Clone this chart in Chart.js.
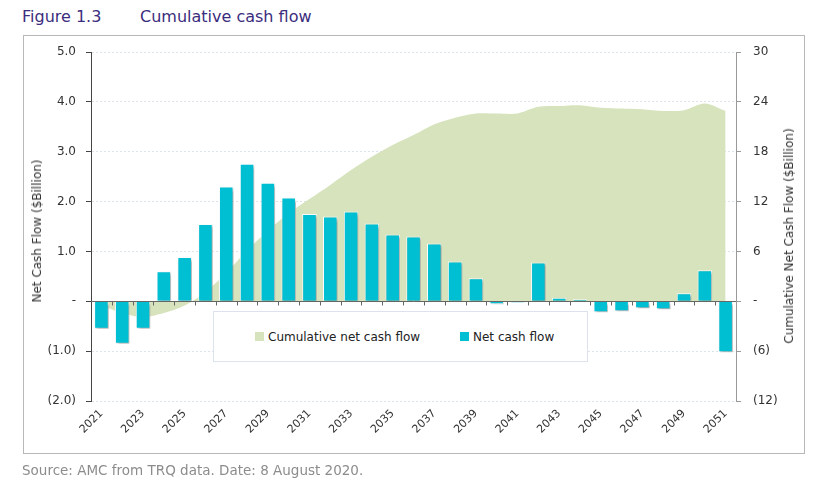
<!DOCTYPE html>
<html>
<head>
<meta charset="utf-8">
<script src="https://cdn.jsdelivr.net/npm/chart.js@4.4.0/dist/chart.umd.min.js"></script>
<style>
  body { margin: 0; width: 829px; height: 482px; background: #fff; position: relative; overflow: hidden;
         font-family: "DejaVu Sans", Verdana, sans-serif; }
  #titulo { position: absolute; left: 22px; top: 9px; font-size: 16px; line-height: 16px; color: #3b2d7d; white-space: nowrap; }
  #titulo span { position: absolute; left: 118px; }
  #marco { position: absolute; left: 23px; top: 35px; width: 782px; height: 419px; border: 1px solid #b8b8b8; box-sizing: border-box; }
  #contenedor { position: absolute; left: 0; top: 0; width: 829px; height: 482px; }
  .tituloEje { position: absolute; font-size: 12px; line-height: 12px; color: #333; white-space: nowrap;
               transform: translate(-50%, -50%) rotate(-90deg); }
  #leyenda { position: absolute; left: 213px; top: 311px; width: 375px; height: 51px; box-sizing: border-box;
             border: 1px solid #dde3ee; background: #fff; font-size: 12px; color: #222; }
  .item { position: absolute; top: 18px; line-height: 14px; white-space: nowrap; }
  .cuadro { display: inline-block; width: 9px; height: 9px; margin-right: 4px; vertical-align: 0px; }
  #fuente { position: absolute; left: 22px; top: 463px; font-size: 13.5px; line-height: 14px; color: #8c8c8c; white-space: nowrap; }
</style>
</head>
<body>
<div id="titulo">Figure 1.3<span>Cumulative cash flow</span></div>
<div id="marco"></div>
<div id="contenedor"><canvas id="grafico" width="829" height="482"></canvas></div>
<div class="tituloEje" style="left:37px; top:231px">Net Cash Flow ($Billion)</div>
<div class="tituloEje" style="left:789px; top:236px">Cumulative Net Cash Flow ($Billion)</div>
<div id="leyenda">
  <div class="item" style="left:41px"><span class="cuadro" style="background:#d6e3bc"></span>Cumulative net cash flow</div>
  <div class="item" style="left:246px"><span class="cuadro" style="background:#00bfd3"></span>Net cash flow</div>
</div>
<div id="fuente">Source: AMC from TRQ data. Date: 8 August 2020.</div>

<script>
// años del eje x
var anios = ['2021','2022','2023','2024','2025','2026','2027','2028','2029','2030',
             '2031','2032','2033','2034','2035','2036','2037','2038','2039','2040',
             '2041','2042','2043','2044','2045','2046','2047','2048','2049','2050','2051'];

// flujo neto anual ($B, eje izquierdo)
var flujoNeto = [-0.55, -0.85, -0.55, 0.60, 0.89, 1.55, 2.30, 2.76, 2.38, 2.08,
                 1.75, 1.70, 1.80, 1.56, 1.34, 1.30, 1.16, 0.80, 0.46, -0.06,
                 -0.03, 0.78, 0.07, 0.04, -0.22, -0.20, -0.14, -0.16, 0.16, 0.62, -1.02];

// flujo acumulado ($B, eje derecho)
var flujoAcumulado = [-0.5, -1.4, -1.9, -1.4, -0.5, 1.1, 3.4, 6.1, 8.5, 10.6,
                      12.3, 14.0, 15.8, 17.4, 18.8, 20.0, 21.3, 22.1, 22.6, 22.6,
                      22.6, 23.4, 23.5, 23.6, 23.3, 23.2, 23.1, 22.9, 23.0, 23.8, 22.9];

// etiquetas de los ejes
var valoresIzq = [-2, -1, 0, 1, 2, 3, 4, 5];
var etiquetasIzq = ['(2.0)', '(1.0)', '-', '1.0', '2.0', '3.0', '4.0', '5.0'];
var valoresDer = [-12, -6, 0, 6, 12, 18, 24, 30];
var etiquetasDer = ['(12)', '(6)', '-', '6', '12', '18', '24', '30'];

Chart.defaults.font.family = '"DejaVu Sans", Verdana, sans-serif';

// sombra para barras y área
var sombra = {
  id: 'sombra',
  beforeDatasetDraw: function(chart) {
    var ctx = chart.ctx;
    ctx.save();
    ctx.shadowColor = 'rgba(0,0,0,0.35)';
    ctx.shadowBlur = 3;
    ctx.shadowOffsetX = 2;
    ctx.shadowOffsetY = 2;
  },
  afterDatasetDraw: function(chart) {
    chart.ctx.restore();
  }
};

// línea del cero con marcas entre categorías
var lineaCero = {
  id: 'lineaCero',
  afterDatasetsDraw: function(chart) {
    var ctx = chart.ctx, area = chart.chartArea;
    var y0 = Math.round(chart.scales.y.getPixelForValue(0)) + 0.5;
    ctx.save();
    ctx.strokeStyle = '#666';
    ctx.lineWidth = 1;
    ctx.beginPath();
    ctx.moveTo(area.left, y0);
    ctx.lineTo(area.right, y0);
    var paso = (area.right - area.left) / anios.length;
    for (var i = 1; i < anios.length; i++) {
      var xp = Math.round(area.left + paso * i) + 0.5;
      ctx.moveTo(xp, y0);
      ctx.lineTo(xp, y0 + 4);
    }
    ctx.stroke();
    ctx.restore();
  }
};

var ctx = document.getElementById('grafico').getContext('2d');
var chartFlujo = new Chart(ctx, {
  type: 'bar',
  data: {
    labels: anios,
    datasets: [{
      type: 'bar',
      label: 'Net cash flow',
      data: flujoNeto,
      yAxisID: 'y',
      backgroundColor: '#00bfd3',
      borderColor: '#ffffff',
      borderWidth: 1,
      barPercentage: 0.7,
      categoryPercentage: 1,
      order: 1
    }, {
      type: 'line',
      label: 'Cumulative net cash flow',
      data: flujoAcumulado,
      yAxisID: 'y1',
      backgroundColor: '#d6e3bc',
      borderColor: '#d6e3bc',
      borderWidth: 0,
      pointRadius: 0,
      tension: 0.3,
      fill: 'origin',
      order: 2
    }]
  },
  options: {
    responsive: false,
    animation: false,
    layout: { padding: { left: 24, right: 29, top: 52, bottom: 0 } },
    plugins: {
      legend: { display: false },
      tooltip: { enabled: false }
    },
    scales: {
      x: {
        offset: true,
        grid: { display: false, drawTicks: false },
        border: { display: false },
        ticks: {
          autoSkip: false,
          maxRotation: 45,
          minRotation: 45,
          padding: 6,
          color: '#333',
          font: { size: 11 },
          callback: function(valor, indice) {
            return indice % 2 === 0 ? anios[indice] : '';
          }
        },
        afterFit: function(escala) { escala.height = 81; }
      },
      y: {
        position: 'left',
        min: -2,
        max: 5,
        ticks: {
          stepSize: 1,
          padding: 10,
          color: '#333',
          font: { size: 12 },
          callback: function(valor) {
            var i = valoresIzq.indexOf(valor);
            return i >= 0 ? etiquetasIzq[i] : '';
          }
        },
        grid: { color: '#dde4ee', tickColor: '#444', tickLength: 5 },
        border: { color: '#444', dash: [2, 2] },
        afterFit: function(escala) { escala.width = 67; }
      },
      y1: {
        position: 'right',
        min: -12,
        max: 30,
        ticks: {
          stepSize: 6,
          padding: 12,
          color: '#333',
          font: { size: 12 },
          callback: function(valor) {
            var i = valoresDer.indexOf(valor);
            return i >= 0 ? etiquetasDer[i] : '';
          }
        },
        grid: { drawOnChartArea: false, tickColor: '#999', tickLength: 5 },
        border: { color: '#999' },
        afterFit: function(escala) { escala.width = 64; }
      }
    }
  },
  plugins: [sombra, lineaCero]
});
</script>
</body>
</html>
